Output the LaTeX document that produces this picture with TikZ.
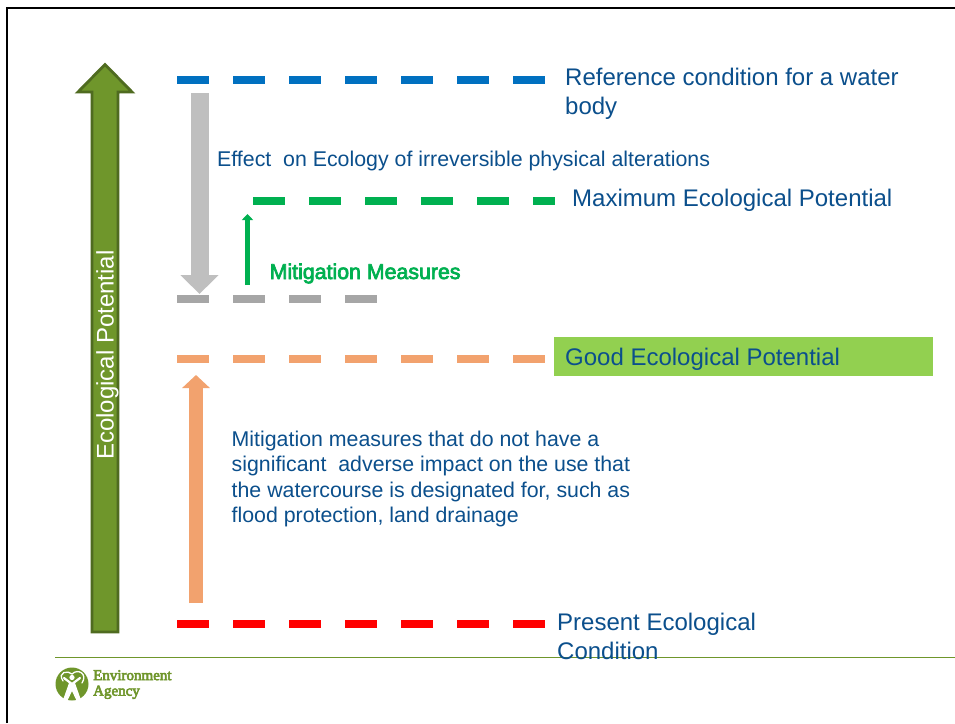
\documentclass[tikz,border=0pt]{standalone}
\usepackage{fontspec}
\setmainfont{Liberation Sans}
\newfontfamily\logofont{Liberation Serif}
\newcommand{\heavytext}[2]{\special{pdf:code 2 Tr #1 w}#2\special{pdf:code 0 Tr 1 w}}
\usetikzlibrary{arrows.meta}
\definecolor{txtblue}{HTML}{0B4F8C}
\definecolor{refblue}{HTML}{0070C0}
\definecolor{mitgreen}{HTML}{00B050}
\definecolor{lgray}{HTML}{A6A6A6}
\definecolor{agray}{HTML}{BFBFBF}
\definecolor{orng}{HTML}{F2A26E}
\definecolor{goodgreen}{HTML}{92D050}
\definecolor{olive}{HTML}{6F962B}
\definecolor{darkolive}{HTML}{4F6B20}
\tikzset{
  x=1pt,y=-1pt,
  level/.style={line width=8.4pt,dash pattern=on 32pt off 24pt},
  label/.style={anchor=west,inner sep=0pt,text=txtblue,font=\fontsize{24}{29}\selectfont,align=left},
  small/.style={anchor=west,inner sep=0pt,text=txtblue,font=\fontsize{21.33}{25.6}\selectfont,align=left},
}
\begin{document}
\begin{tikzpicture}
\useasboundingbox (0,0) rectangle (955,723);
\fill[white] (0,0) rectangle (955,723);
% slide frame and footer rule
\coordinate (fa) at (7,723); \coordinate (fb) at (7,8); \coordinate (fc) at (955,8);
\draw[line width=2.6pt,black] (fa) -- (fb) -- (fc);
\coordinate (ra) at (55,657.5); \coordinate (rb) at (955,657.5);
\draw[line width=0.8pt,olive] (ra) -- (rb);
% label band
\fill[goodgreen] (554,337) rectangle (933,376);
% main arrow
\filldraw[fill=olive,draw=darkolive,line width=2.8pt,line join=miter]
  (105,64.5) -- (132,92) -- (118,92) -- (118,632) -- (92,632) -- (92,92) -- (78,92) -- cycle;
\node[rotate=90,inner sep=0pt,text=white,font=\fontsize{24}{26}\selectfont] (axis) at (107.5,355) {Ecological Potential};
% level lines
\coordinate (b1) at (177,80); \coordinate (b2) at (546,80);
\coordinate (g1) at (253,201); \coordinate (g2) at (555,201);
\coordinate (s1) at (177,299); \coordinate (s2) at (378,299);
\coordinate (o1) at (177,359); \coordinate (o2) at (546,359);
\coordinate (r1) at (177,624); \coordinate (r2) at (546,624);
\draw[level,refblue] (b1) -- (b2);
\draw[level,mitgreen] (g1) -- (g2);
\draw[level,lgray] (s1) -- (s2);
\draw[level,orng] (o1) -- (o2);
\draw[level,red] (r1) -- (r2);
% block arrows
\coordinate (a1) at (199.5,93); \coordinate (a2) at (199.5,294);
\draw[line width=18pt,agray,-{Triangle[length=19pt,width=37pt]}] (a1) -- (a2);
\coordinate (c1) at (247.5,285); \coordinate (c2) at (247.5,214);
\draw[line width=5pt,mitgreen,-{Triangle[length=6pt,width=11pt]}] (c1) -- (c2);
\coordinate (d1) at (196,603); \coordinate (d2) at (196,375);
\draw[line width=13.5pt,orng,-{Triangle[length=13pt,width=27pt]}] (d1) -- (d2);
% texts
\node[label] (t1) at (565,93.5) {Reference condition for a water\\body};
\node[small] (t2) at (217,161) {Effect\ \ on Ecology of irreversible physical alterations};
\node[label] (t3) at (572,200) {Maximum Ecological Potential};
\node[anchor=west,inner sep=0pt,text=mitgreen,font=\fontsize{21.33}{24}\selectfont] (t4) at (269.5,273.5)
  {\heavytext{0.7}{Mitigation Measures}};
\node[label] (t5) at (565,359) {Good Ecological Potential};
\node[small] (t6) at (231.5,479) {Mitigation measures that do not have a\\significant\ \ adverse impact on the use that\\the watercourse is designated for, such as\\flood protection, land drainage};
\node[label] (t7) at (557,636) {Present Ecological\\Condition};
% logo
\fill[olive] (72,684) circle (16.5);
\draw[white,line width=1.3pt,line cap=round] (63,681) .. controls (57,672) and (68,670) .. (72,674) .. controls (78,668) and (88,674) .. (82,683);
\fill[white] (72,677.5) circle (2.6);
\draw[white,line width=2.2pt,line cap=round,line join=round] (64,678) -- (72,684) -- (80,678);
\fill[white] (69,683) -- (75,683) -- (81,700) -- (76.5,700.5) -- (72,691) -- (67.5,700.5) -- (63,700) -- cycle;
\node[anchor=west,inner sep=0pt,text=olive,font=\logofont\fontsize{15}{15.5}\selectfont,align=left] (logo) at (93,684.5) {\heavytext{0.6}{Environment}\\\heavytext{0.6}{Agency}};
\end{tikzpicture}
\end{document}
